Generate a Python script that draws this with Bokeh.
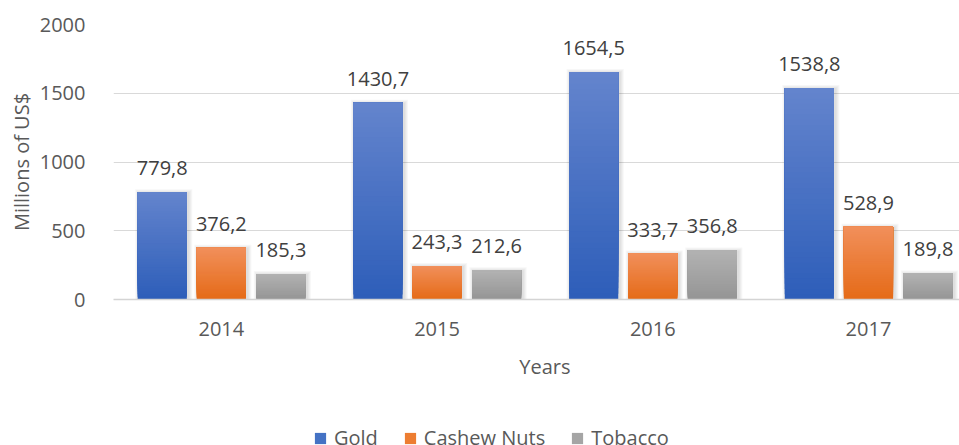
from bokeh.plotting import figure
from bokeh.models import (ColumnDataSource, LabelSet, Label, Legend, LegendItem,
                          FixedTicker, Range1d)
from bokeh.layouts import column
from bokeh.core.properties import value
from bokeh.embed import file_html
from bokeh.resources import INLINE

years = ["2014", "2015", "2016", "2017"]
series_names = ["Gold", "Cashew Nuts", "Tobacco"]
gold = [779.8, 1430.7, 1654.5, 1538.8]
cashew = [376.2, 243.3, 333.7, 528.9]
tobacco = [185.3, 212.6, 356.8, 189.8]
y_ticks = [0, 500, 1000, 1500, 2000]

FONT = "Open Sans"
AXIS_COL = "#595959"
LABEL_COL = "#404040"

# styling (not data)
offsets = [-0.274, 0.0, 0.276]
bar_w = 0.228
grad = [("#2E5EB9", "#6384CD"), ("#E56B18", "#F18F5A"), ("#959595", "#B2B2B2")]
mid_cols = ["#4472C4", "#ED7D31", "#A5A5A5"]
N_SEG = 40
PX_X = 3.922 / 846.0   # data units per pixel, x
PX_Y = 2000 / 275.0    # data units per pixel, y


def hex2rgb(h):
    h = h.lstrip("#")
    return tuple(int(h[i:i + 2], 16) for i in (0, 2, 4))


def interp(c0, c1, t):
    a, b = hex2rgb(c0), hex2rgb(c1)
    return "#%02x%02x%02x" % tuple(int(round(a[k] + (b[k] - a[k]) * t)) for k in range(3))


x_range = Range1d(-0.5, 3.422)
p = figure(width=959, height=345, output_backend="svg", toolbar_location=None,
           x_range=x_range, y_range=Range1d(0, 2000),
           min_border_left=113, min_border_top=24, min_border_bottom=46,
           min_border_right=0)
p.outline_line_color = None
p.background_fill_color = "white"
p.border_fill_color = "white"

# second strip for the axis title and legend (shares the x scale)
p2 = figure(width=959, height=100, output_backend="svg", toolbar_location=None,
            x_range=x_range, y_range=Range1d(0, 1), x_axis_type=None, y_axis_type=None,
            min_border_left=113, min_border_top=0, min_border_bottom=0,
            min_border_right=0)
p2.outline_line_color = None
p2.xgrid.grid_line_color = None
p2.ygrid.grid_line_color = None
p2.background_fill_color = "white"
p2.border_fill_color = "white"

p.xgrid.grid_line_color = None
p.ygrid.grid_line_color = "#d9d9d9"
p.ygrid.grid_line_width = 1

all_values = [gold, cashew, tobacco]
legend_items = []
for s, (name, vals) in enumerate(zip(series_names, all_values)):
    bx = [i + offsets[s] for i in range(len(vals))]
    # soft shadow
    for k in range(1, 5):
        p.vbar(x=[x + 1.5 * PX_X for x in bx], top=[v + (k - 1) * PX_Y for v in vals],
               width=bar_w + 2 * k * PX_X, fill_color="black", fill_alpha=0.03,
               line_color=None)
    xs, bottoms, tops, cols = [], [], [], []
    for i, v in enumerate(vals):
        for k in range(N_SEG):
            xs.append(bx[i])
            bottoms.append(v * k / N_SEG)
            tops.append(v)
            cols.append(interp(grad[s][0], grad[s][1], k / (N_SEG - 1)))
    src = ColumnDataSource(dict(x=xs, bottom=bottoms, top=tops, color=cols))
    p.vbar(x="x", bottom="bottom", top="top", width=bar_w, fill_color="color",
           line_color=None, source=src)
    # zero-height bar, only used as the legend swatch
    swatch = p2.vbar(x=[0], bottom=[0], top=[0], width=bar_w, fill_color=mid_cols[s],
                     line_color=None)
    legend_items.append(LegendItem(label=name, renderers=[swatch]))

    lsrc = ColumnDataSource(dict(
        x=bx, y=vals, t=[("%.1f" % v).replace(".", ",") for v in vals]))
    p.add_layout(LabelSet(x="x", y="y", text="t", source=lsrc, text_align="center",
                          text_baseline="alphabetic", y_offset=17,
                          text_font=value(FONT), text_font_size=value("20px"),
                          text_color=value(LABEL_COL)))

# axes
p.xaxis.ticker = FixedTicker(ticks=list(range(len(years))))
p.xaxis.major_label_overrides = {i: y for i, y in enumerate(years)}
p.xaxis.major_tick_line_color = None
p.xaxis.minor_tick_line_color = None
p.xaxis.axis_line_color = "#d4d4d4"
p.xaxis.axis_line_width = 1.5
p.xaxis.major_label_standoff = 16
p.xaxis.major_label_text_font = FONT
p.xaxis.major_label_text_font_size = "20px"
p.xaxis.major_label_text_color = AXIS_COL

p.yaxis.ticker = FixedTicker(ticks=y_ticks)
p.yaxis.major_tick_line_color = None
p.yaxis.minor_tick_line_color = None
p.yaxis.axis_line_color = None
p.yaxis.major_label_standoff = 22
p.yaxis.major_label_text_font = FONT
p.yaxis.major_label_text_font_size = "20px"
p.yaxis.major_label_text_color = AXIS_COL
p.yaxis.axis_label = "Millions of US$"
p.yaxis.axis_label_standoff = 2
p.yaxis.axis_label_text_font = FONT
p.yaxis.axis_label_text_font_size = "20px"
p.yaxis.axis_label_text_font_style = "normal"
p.yaxis.axis_label_text_color = AXIS_COL

# x-axis title centred on the category block
p2.add_layout(Label(x=(len(years) - 1) / 2, y=1, y_offset=-21, text="Years",
                    text_align="center", text_baseline="middle",
                    text_font=FONT, text_font_size="20px", text_color=AXIS_COL))

legend = Legend(items=legend_items, orientation="horizontal", location=(200, -6),
                label_text_font=FONT, label_text_font_size="20px",
                label_text_color=AXIS_COL, glyph_width=14, glyph_height=14,
                label_standoff=7, spacing=25, padding=0, margin=0,
                border_line_color=None, background_fill_alpha=0)
p2.add_layout(legend, "center")

layout = column(p, p2, spacing=0)
open("out.html", "w").write(file_html(layout, INLINE))
